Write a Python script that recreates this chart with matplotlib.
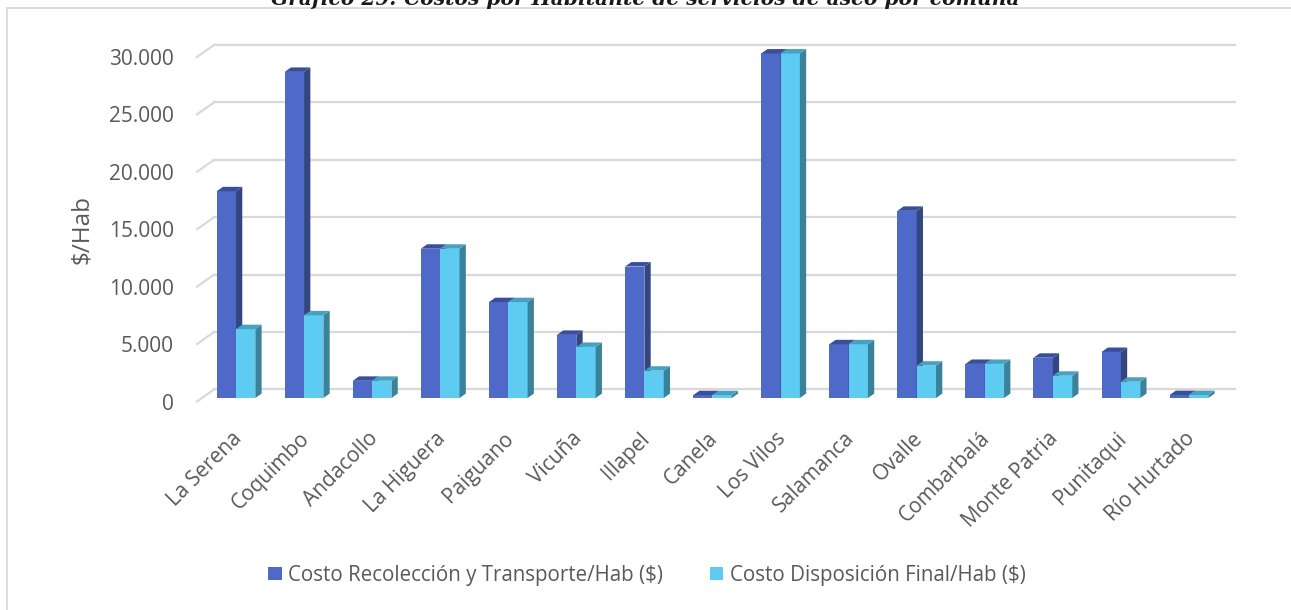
import numpy as np
import matplotlib
matplotlib.use("Agg")
import matplotlib.pyplot as plt
from matplotlib.patches import Polygon, Patch, Rectangle
from matplotlib.ticker import FuncFormatter

plt.rcParams['font.family'] = ['Open Sans', 'DejaVu Sans']

# datos por comuna ($/Hab)
comunas = ['La Serena', 'Coquimbo', 'Andacollo', 'La Higuera', 'Paiguano', 'Vicuña',
           'Illapel', 'Canela', 'Los Vilos', 'Salamanca', 'Ovalle', 'Combarbalá',
           'Monte Patria', 'Punitaqui', 'Río Hurtado']
recoleccion = [18000, 28400, 1500, 13000, 8350, 5500, 11450, 250, 30000, 4680,
               16300, 2970, 3510, 4010, 260]
disposicion = [6000, 7200, 1500, 13000, 8350, 4450, 2380, 250, 30000, 4680,
               2820, 2970, 1940, 1420, 260]
series = ['Costo Recolección y Transporte/Hab ($)', 'Costo Disposición Final/Hab ($)']
yticks = [0, 5000, 10000, 15000, 20000, 25000, 30000]

# colores (frente, lado, tapa)
c_rec = ('#4e69c8', '#33467f', '#3a4f9c')
c_dis = ('#5ecbf2', '#3a819a', '#48a1c0')
gris = '#d9d9d9'
txt = '#595959'

fig = plt.figure(figsize=(12.91, 6.10), dpi=100)
ax = fig.add_axes([0.1526, 0.3418, 0.7909, 0.5648])
ax.set_xlim(-0.5, 14.5)
ax.set_ylim(0, 30000)
ax.patch.set_visible(False)
for s in ax.spines.values():
    s.set_visible(False)

# profundidad del "3D"
dx, dy = 0.25, 1046
f0, f1 = 0.29, 0.66
w = 0.284

# grilla: pared del fondo y pared izquierda
for v in yticks:
    ax.plot([-0.5 + dx, 14.5 + dx], [v + dy, v + dy], color=gris, lw=1.6,
            clip_on=False, zorder=1)
    ax.plot([-0.5, -0.5 + dx], [v, v + dy], color=gris, lw=1.6,
            clip_on=False, zorder=1)


def barras3d(x0, vals, cols):
    x0 = np.asarray(x0) + f0 * dx
    by = f0 * dy
    ax.bar(x0, vals, width=w, bottom=by, align='edge', color=cols[0],
           clip_on=False, zorder=3, linewidth=0)
    ddx, ddy = (f1 - f0) * dx, (f1 - f0) * dy
    for x, h in zip(x0, vals):
        lado = [(x + w, by), (x + w + ddx, by + ddy), (x + w + ddx, by + h + ddy), (x + w, by + h)]
        tapa = [(x, by + h), (x + ddx, by + h + ddy), (x + w + ddx, by + h + ddy), (x + w, by + h)]
        ax.add_patch(Polygon(lado, closed=True, facecolor=cols[1], lw=0, clip_on=False, zorder=3))
        ax.add_patch(Polygon(tapa, closed=True, facecolor=cols[2], lw=0, clip_on=False, zorder=3))


x = np.arange(len(comunas))
barras3d(x - w, recoleccion, c_rec)
barras3d(x, disposicion, c_dis)

ax.set_yticks(yticks)
ax.yaxis.set_major_formatter(FuncFormatter(lambda v, p: f"{int(v):,}".replace(",", ".")))
ax.tick_params(axis='y', length=0, pad=16.5, labelsize=15, labelcolor=txt)

ax.set_xticks(x)
ax.set_xticklabels(comunas, rotation=45, ha='right', rotation_mode='anchor')
ax.tick_params(axis='x', length=0, pad=19, labelsize=15, labelcolor=txt)

fig.text(82 / 1291, 1 - 230 / 610, '$/Hab', rotation=90, ha='center', va='center',
         fontsize=17.5, color=txt)

handles = [Patch(facecolor=c_rec[0]), Patch(facecolor=c_dis[0])]
fig.legend(handles, series, loc='center', bbox_to_anchor=(0.501, 0.057), ncol=2,
           frameon=False, fontsize=14.8, handlelength=0.65, handleheight=0.65,
           handletextpad=0.3, columnspacing=2.3, labelcolor=txt)

# marco del grafico
fig.add_artist(Rectangle((7 / 1291, -0.2), 1.2, 1.2 - 7.5 / 610, transform=fig.transFigure,
                         fill=False, edgecolor=gris, lw=1.3))

fig.text(0.5, 1 - 5 / 610, 'Gráfico 29: Costos por Habitante de servicios de aseo por comuna',
         ha='center', va='baseline', fontsize=14.6, family='DejaVu Serif',
         weight='bold', style='italic', color='#1a1a1a')

fig.savefig('out.png', dpi=100)
